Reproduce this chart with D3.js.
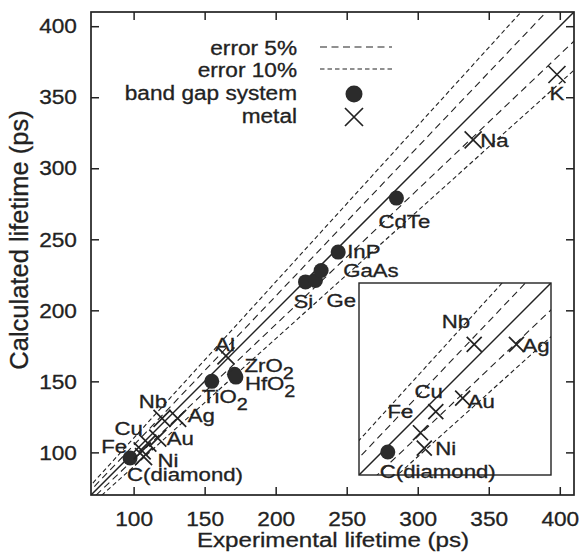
<!DOCTYPE html>
<html>
<head>
<meta charset="utf-8">
<script src="https://cdn.jsdelivr.net/npm/d3@7"></script>
<style>
  body { margin: 0; background: #fff; }
  text { font-family: "Liberation Sans", Arial, sans-serif; fill: #222; stroke: #222; stroke-width: 0.3px; }
</style>
</head>
<body>
<script>
// band gap systems (filled circles)
const gapNames = ["C(diamond)", "TiO2", "ZrO2", "HfO2", "Si", "Ge", "GaAs", "InP", "CdTe"];
const gapExp = [97.5, 155, 171, 172, 221, 228, 232, 244, 285];
const gapCalc = [96, 150, 155, 153, 220, 221, 228, 241, 279];

// metals (crosses)
const metalNames = ["Fe", "Ni", "Cu", "Au", "Nb", "Ag", "Al", "Na", "K"];
const metalExp = [106, 107, 110, 117, 120, 131, 165, 339, 398];
const metalCalc = [101, 97, 106.5, 110, 124, 124, 168, 320, 366];

const ticks = [100, 150, 200, 250, 300, 350, 400];
const legendLabels = ["error 5%", "error 10%", "band gap system", "metal"];
const errorRatios = [1, 1.05, 0.95, 1.1, 0.9];

// label placement: [dx, dy, anchor]
const mainLabelPos = {
  "K": [0, 25, "middle"], "Na": [7, 7, "start"], "CdTe": [-18, 30, "start"],
  "InP": [9, 6, "start"], "GaAs": [22, 6, "start"], "Ge": [11, 27, "start"],
  "Si": [-12, 26, "start"], "Al": [-1, -5, "middle"], "ZrO2": [10, -2, "start"],
  "HfO2": [9, 13, "start"], "TiO2": [-10, 22, "start"], "Nb": [5, -10, "end"],
  "Ag": [10, 4, "start"], "Cu": [-5, -8, "end"], "Au": [9, 7, "start"],
  "Fe": [-15, 2, "end"], "Ni": [14, 10, "start"], "C(diamond)": [-3, 23, "start"]
};
const insetLabelPos = {
  "Nb": [-4, -16, "end"], "Ag": [6, 8, "start"], "Cu": [7, -14, "end"],
  "Au": [5, 10, "start"], "Fe": [-7, -15, "end"], "Ni": [11, 7, "start"],
  "C(diamond)": [-8, 26, "start"]
};

const gapData = gapNames.map((n, i) => ({ name: n, exp: gapExp[i], calc: gapCalc[i] }));
const metalData = metalNames.map((n, i) => ({ name: n, exp: metalExp[i], calc: metalCalc[i] }));

const ink = "#222";
const svg = d3.select("body").append("svg").attr("width", 586).attr("height", 557);

const x = d3.scaleLinear().domain([70, 410]).range([91, 574]);
const y = d3.scaleLinear().domain([70, 410]).range([495, 12]);

const ix = d3.scaleLinear().domain([90, 140]).range([359, 551]);
const iy = d3.scaleLinear().domain([90, 140]).range([475, 283]);

const addText = (g, px, py, str, anchor, size, sx) => {
  const t = g.append("text")
    .attr("transform", `translate(${px},${py}) scale(${sx},1)`)
    .attr("text-anchor", anchor)
    .style("font-size", size + "px");
  const m = str.match(/^(.*O)(2)$/);
  if (m) {
    t.append("tspan").text(m[1]);
    t.append("tspan").attr("dy", 7).style("font-size", (size - 2) + "px").text(m[2]);
  } else {
    t.text(str);
  }
  return t;
};

const defs = svg.append("defs");
defs.append("clipPath").attr("id", "clip-main")
  .append("rect").attr("x", 91).attr("y", 12).attr("width", 483).attr("height", 483);
defs.append("clipPath").attr("id", "clip-inset")
  .append("rect").attr("x", 359).attr("y", 283).attr("width", 192).attr("height", 192);

const dashFor = k => (k === 1 ? null : Math.abs(k - 1) < 0.07 ? "7,4.5" : "4.5,3");

const drawLines = (g, sx, sy, clip) => {
  const [lo, hi] = sx.domain();
  const line = d3.line().x(d => sx(d[0])).y(d => sy(d[1]));
  g.append("g").attr("clip-path", `url(#${clip})`)
    .selectAll("path")
    .data(errorRatios)
    .enter()
    .append("path")
    .attr("d", k => line([[lo - 20, (lo - 20) * k], [hi + 20, (hi + 20) * k]]))
    .attr("fill", "none")
    .attr("stroke", ink)
    .attr("stroke-width", k => (k === 1 ? 1.5 : 1.1))
    .attr("stroke-dasharray", dashFor);
};

const crossPath = h => `M${-h},${-h}L${h},${h}M${-h},${h}L${h},${-h}`;

const drawPoints = (g, sx, sy, gaps, metals, r, h) => {
  g.selectAll(".gap").data(gaps).enter()
    .append("circle")
    .attr("class", "gap")
    .attr("cx", d => sx(d.exp))
    .attr("cy", d => sy(d.calc))
    .attr("r", r)
    .attr("fill", "#2b2b2b");
  g.selectAll(".metal").data(metals).enter()
    .append("path")
    .attr("class", "metal")
    .attr("transform", d => `translate(${sx(d.exp)},${sy(d.calc)})`)
    .attr("d", crossPath(h))
    .attr("stroke", ink)
    .attr("stroke-width", 1.7)
    .attr("fill", "none");
};

const drawLabels = (g, sx, sy, data, pos) => {
  data.forEach(d => {
    const p = pos[d.name];
    if (!p) return;
    addText(g, sx(d.exp) + p[0], sy(d.calc) + p[1], d.name, p[2], 18.5, 1.2);
  });
};

// main plot
const main = svg.append("g");
drawLines(main, x, y, "clip-main");

// axes with inward ticks on all four sides
const axisStyle = g => {
  g.select(".domain").remove();
  g.selectAll(".tick line").attr("stroke", ink).attr("stroke-width", 1.5);
};
const tickText = g => g.selectAll(".tick text").attr("fill", ink).attr("font-family", null)
  .style("font-size", "21px").attr("transform", "scale(1.08,1)");

svg.append("g").attr("transform", "translate(0,495)")
  .call(d3.axisBottom(x).tickValues(ticks).tickSize(-8).tickPadding(16))
  .call(axisStyle)
  .call(tickText);
svg.append("g").attr("transform", "translate(0,12)")
  .call(d3.axisTop(x).tickValues(ticks).tickSize(-8).tickFormat(""))
  .call(axisStyle);
svg.append("g").attr("transform", "translate(91,0)")
  .call(d3.axisLeft(y).tickValues(ticks).tickSize(-8).tickPadding(13))
  .call(axisStyle)
  .call(tickText);
svg.append("g").attr("transform", "translate(574,0)")
  .call(d3.axisRight(y).tickValues(ticks).tickSize(-8).tickFormat(""))
  .call(axisStyle);

svg.append("rect")
  .attr("x", 91).attr("y", 12).attr("width", 483).attr("height", 483)
  .attr("fill", "none").attr("stroke", ink).attr("stroke-width", 1.7);

drawPoints(main, x, y, gapData, metalData, 7.5, 8.5);
drawLabels(main, x, y, gapData.concat(metalData), mainLabelPos);

// legend
const legend = svg.append("g");
const legendRows = [55, 77, 100, 123];
legendLabels.forEach((t, i) => addText(legend, 297, legendRows[i], t, "end", 19.5, 1.16));
[1.05, 1.1].forEach((k, i) => {
  legend.append("line")
    .attr("x1", 320).attr("x2", 392)
    .attr("y1", legendRows[i] - 8).attr("y2", legendRows[i] - 8)
    .attr("stroke", ink).attr("stroke-width", 1.1)
    .attr("stroke-dasharray", dashFor(k));
});
legend.append("circle").attr("cx", 354).attr("cy", legendRows[2] - 6).attr("r", 8.5).attr("fill", "#2b2b2b");
legend.append("path").attr("transform", `translate(354,${legendRows[3] - 6})`)
  .attr("d", crossPath(9)).attr("stroke", ink).attr("stroke-width", 1.7).attr("fill", "none");

// inset
const inset = svg.append("g");
inset.append("rect").attr("x", 359).attr("y", 283).attr("width", 192).attr("height", 192)
  .attr("fill", "#fff");
drawLines(inset, ix, iy, "clip-inset");
const inDomain = d => d.exp >= 90 && d.exp <= 140 && d.calc >= 90 && d.calc <= 140;
drawPoints(inset, ix, iy, gapData.filter(inDomain), metalData.filter(inDomain), 7.5, 7.5);
drawLabels(inset, ix, iy, gapData.concat(metalData).filter(inDomain), insetLabelPos);
inset.append("rect").attr("x", 359).attr("y", 283).attr("width", 192).attr("height", 192)
  .attr("fill", "none").attr("stroke", ink).attr("stroke-width", 1.4);

// axis titles
addText(svg, 333, 547, "Experimental lifetime (ps)", "middle", 21, 1.15);
svg.append("text")
  .attr("transform", "translate(28,240) rotate(-90)")
  .attr("text-anchor", "middle")
  .style("font-size", "25.5px")
  .text("Calculated lifetime (ps)");
</script>
</body>
</html>
